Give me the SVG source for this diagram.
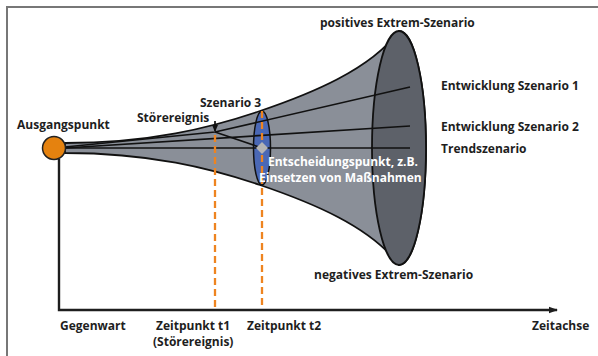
<svg xmlns="http://www.w3.org/2000/svg" width="598" height="356" viewBox="0 0 598 356">
  <defs>
    <marker id="axis-head" markerWidth="9" markerHeight="8" refX="8" refY="4" orient="auto" markerUnits="userSpaceOnUse">
      <path d="M0,0.8 L9,4 L0,7.2 Z" fill="#1e1e1e"/>
    </marker>
    <marker id="event-head" markerWidth="7" markerHeight="6" refX="6" refY="3" orient="auto" markerUnits="userSpaceOnUse">
      <path d="M0,0 L7,3 L0,6 Z" fill="#111"/>
    </marker>
  </defs>
  <style>
    text { font-family: "Open Sans", "Noto Sans", "Liberation Sans", sans-serif; font-weight: 700; font-size: 12px; fill: #1e1e1e; }
    text.inv { fill: #ffffff; }
    .track { fill: none; stroke: #111; stroke-width: 1.7; stroke-linejoin: round; }
    .timeline { fill: none; stroke: #ee8420; stroke-width: 2.3; stroke-dasharray: 7 4; }
    .axis { fill: none; stroke: #1e1e1e; stroke-width: 2.4; }
  </style>

  <!-- page and frame -->
  <rect x="0" y="0" width="598" height="356" fill="#ffffff"/>
  <rect x="7" y="7" width="600" height="360" fill="#ffffff" stroke="#777" stroke-width="2"/>

  <!-- scenario funnel -->
  <g id="funnel">
    <path d="M65,143 C150,143 210,128 260,111 C310,94 370,70 399,31 A27,117 0 0 1 399,265 C370,226 310,202 260,185 C210,168 150,153 65,153 Z" fill="#8a8f98" stroke="#111" stroke-width="1.8"/>
    <ellipse cx="399" cy="148" rx="27" ry="117" fill="#5d6169" stroke="#111" stroke-width="1.8"/>
  </g>

  <!-- decision window (Szenario 3) -->
  <g id="decision-window">
    <ellipse cx="262" cy="148" rx="8.5" ry="37" fill="#4a68b5" stroke="#111" stroke-width="1.5"/>
  </g>

  <!-- connectors: development paths, time markers, axes -->
  <g id="connectors">
    <path class="track" d="M65,147 L215,132 L410,87"/>
    <path class="track" d="M65,148 L410,126"/>
    <path class="track" d="M65,148 L410,148"/>
    <path class="track" d="M215,132 L262,148"/>
    <path class="track" d="M215,121 L215,131" stroke-width="1.3" marker-end="url(#event-head)"/>
    <path class="timeline" d="M215,135 L215,309"/>
    <path class="timeline" d="M262,111 L262,309"/>
    <path class="axis" d="M59,159 L59,310 L557,310" marker-end="url(#axis-head)"/>
  </g>

  <!-- starting point -->
  <g id="start-point">
    <circle cx="54" cy="148" r="11.5" fill="#e5820f" stroke="#222" stroke-width="1.5"/>
    <text x="17" y="129">Ausgangspunkt</text>
  </g>

  <!-- decision point -->
  <g id="decision-point">
    <polygon points="262,142 268,148 262,154 256,148" fill="#b4b4b4"/>
    <text class="inv" x="268" y="166">Entscheidungspunkt, z.B.</text>
    <text class="inv" x="259" y="182">Einsetzen von Maßnahmen</text>
  </g>

  <g id="disruption">
    <text x="137" y="122">Störereignis</text>
  </g>

  <g id="scenario-3">
    <text x="200" y="107">Szenario 3</text>
  </g>

  <g id="scenario-labels">
    <text x="320" y="27">positives Extrem-Szenario</text>
    <text x="441" y="90">Entwicklung Szenario 1</text>
    <text x="441" y="131">Entwicklung Szenario 2</text>
    <text x="441" y="153">Trendszenario</text>
    <text x="314" y="279">negatives Extrem-Szenario</text>
  </g>

  <g id="time-labels">
    <text x="60" y="330">Gegenwart</text>
    <text x="156" y="330">Zeitpunkt t1</text>
    <text x="153" y="346">(Störereignis)</text>
    <text x="247" y="330">Zeitpunkt t2</text>
    <text x="532" y="330">Zeitachse</text>
  </g>
</svg>
